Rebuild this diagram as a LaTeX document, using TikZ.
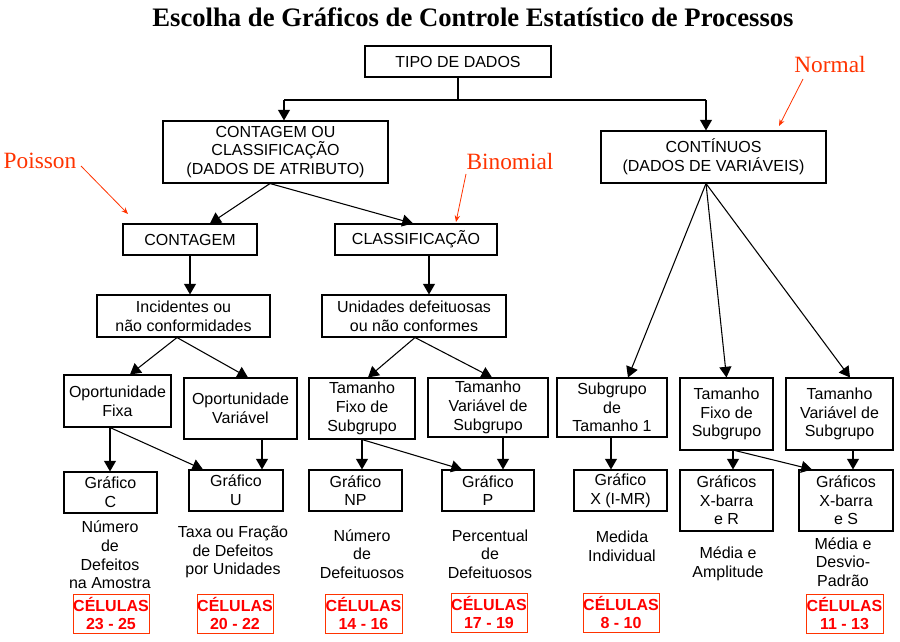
\documentclass[tikz,border=0pt]{standalone}
\usepackage{fontspec}
\setmainfont{Liberation Serif}
\newfontfamily\arialf{Liberation Sans}
\usetikzlibrary{arrows.meta,calc}
\definecolor{lblred}{RGB}{255,51,0}
\definecolor{celred}{RGB}{255,0,0}
\begin{document}
\begin{tikzpicture}[x=0.75pt,y=-0.75pt,
  rect/.style n args={4}{minimum width={(#3-#1)*0.75pt}, minimum height={(#4-#2)*0.75pt}, at={({(#1+#3)/2},{(#2+#4)/2})}},
  box/.style={draw,line width=0.8pt,inner sep=0pt,align=center,font=\arialf\fontsize{12}{14}\selectfont},
  arr/.style={line width=0.8pt,-{Triangle[width=9pt,length=8pt]}},
  ln/.style={line width=0.8pt},
  redarr/.style={draw=lblred,line width=0.6pt,-{Stealth[length=5pt,width=4pt]}},
  lbl/.style={text=lblred,font=\fontsize{17.5}{20}\selectfont,inner sep=0pt},
  desc/.style={align=center,inner sep=0pt,font=\arialf\fontsize{12}{14}\selectfont},
  cel/.style={draw=lblred,line width=0.6pt,inner sep=0pt,align=center,text=celred,font=\arialf\bfseries\fontsize{12}{13.7}\selectfont}]
\useasboundingbox (0,0) rectangle (900,642);

\node[font=\bfseries\fontsize{20}{24}\selectfont,inner sep=0pt] (title) at (473,17) {Escolha de Gráficos de Controle Estatístico de Processos};

% boxes
\node[box,rect={365}{46}{551}{77}] (tipo) {TIPO DE DADOS};
\node[box,rect={163}{121}{388}{183}] (cou) {CONTAGEM OU\\CLASSIFICAÇÃO\\(DADOS DE ATRIBUTO)};
\node[box,rect={601}{131}{826}{183}] (cont) {CONTÍNUOS\\(DADOS DE VARIÁVEIS)};
\node[box,rect={123}{224}{257}{255}] (ct) {CONTAGEM};
\node[box,rect={335}{224}{497}{255}] (cl) {CLASSIFICAÇÃO};
\node[box,rect={97}{295}{270}{337}] (inc) {Incidentes ou\\não conformidades};
\node[box,rect={322}{295}{506}{337}] (uni) {Unidades defeituosas\\ou não conformes};

\node[box,rect={64}{375}{171}{427}] (opf) {Oportunidade\\Fixa};
\node[box,rect={184}{378}{297}{439}] (opv) {Oportunidade\\Variável};
\node[box,rect={309}{378}{415}{439}] (tfa) {Tamanho\\Fixo de\\Subgrupo};
\node[box,rect={428}{378}{548}{437}] (tva) {Tamanho\\Variável de\\Subgrupo};
\node[box,rect={557}{378}{667}{437}] (st1) {Subgrupo\\de\\Tamanho 1};
\node[box,rect={680}{378}{773}{450}] (tfc) {Tamanho\\Fixo de\\Subgrupo};
\node[box,rect={786}{378}{893}{450}] (tvc) {Tamanho\\Variável de\\Subgrupo};

\node[box,rect={64}{472}{157}{513}] (gc) {Gráfico\\C};
\node[box,rect={189}{470}{283}{511}] (gu) {Gráfico\\U};
\node[box,rect={309}{470}{402}{511}] (gnp) {Gráfico\\NP};
\node[box,rect={442}{470}{534}{511}] (gp) {Gráfico\\P};
\node[box,rect={574}{470}{667}{511}] (gx) {Gráfico\\X (I-MR)};
\node[box,rect={680}{470}{773}{531}] (gr) {Gráficos\\X-barra\\e R};
\node[box,rect={799}{470}{893}{531}] (gs) {Gráficos\\X-barra\\e S};

% descriptions
\node[desc] (d1) at (110,555) {Número\\de\\Defeitos\\na Amostra};
\node[desc] (d2) at (233,552) {Taxa ou Fração\\de Defeitos\\por Unidades};
\node[desc] (d3) at (362,554) {Número\\de\\Defeituosos};
\node[desc] (d4) at (490,554) {Percentual\\de\\Defeituosos};
\node[desc] (d5) at (622,546) {Medida\\Individual};
\node[desc] (d6) at (728,564) {Média e\\Amplitude};
\node[desc] (d7) at (843,562) {Média e\\Desvio-\\Padrão};

% cells
\node[cel,rect={73}{594}{149}{633}] (c1) {CÉLULAS\\23 - 25};
\node[cel,rect={197}{594}{273}{633}] (c2) {CÉLULAS\\20 - 22};
\node[cel,rect={325}{594}{402}{633}] (c3) {CÉLULAS\\14 - 16};
\node[cel,rect={451}{593}{527}{632}] (c4) {CÉLULAS\\17 - 19};
\node[cel,rect={583}{593}{659}{632}] (c5) {CÉLULAS\\8 - 10};
\node[cel,rect={806}{594}{883}{633}] (c6) {CÉLULAS\\11 - 13};

% red labels
\node[lbl] (poisson) at (40,161) {Poisson};
\node[lbl] (binomial) at (510,162) {Binomial};
\node[lbl] (normal) at (830,65) {Normal};
\coordinate (pa) at (81,166); \coordinate (pb) at (128,214);
\coordinate (ba) at (466,174); \coordinate (bb) at (456,222);
\coordinate (na) at (803,79); \coordinate (nb) at (779,126);
\draw[redarr] (pa) -- (pb);
\draw[redarr] (ba) -- (bb);
\draw[redarr] (na) -- (nb);

% top connectors
\coordinate (jl) at (284,100);
\coordinate (jr) at (706,100);
\draw[ln] (tipo.south) -- (tipo.south |- jl);
\draw[ln] (jl) -- (jr);
\draw[arr] (jl) -- (jl |- cou.north);
\draw[arr] (jr) -- (jr |- cont.north);

\coordinate (couS) at ($(cou.south)+(-5.5,0)$);
\draw[arr] (couS) -- ($(ct.north)+(20,0)$);
\draw[arr] (couS) -- ($(cl.north)+(-3,0)$);
\draw[arr] (ct.south) -- (ct.south |- inc.north);
\coordinate (clS) at ($(cl.south)+(13,0)$);
\draw[arr] (clS) -- (clS |- uni.north);

\coordinate (incS) at ($(inc.south)+(-6.5,0)$);
\draw[arr] (incS) -- ($(opf.north)+(12.5,0)$);
\draw[arr] (incS) -- ($(opv.north)+(7.5,0)$);
\coordinate (uniS) at ($(uni.south)+(1,0)$);
\draw[arr] (uniS) -- ($(tfa.north)+(6,0)$);
\draw[arr] (uniS) -- ($(tva.north)+(4,0)$);
\coordinate (contS) at ($(cont.south)+(-7.5,0)$);
\draw[arr] (contS) -- ($(st1.north)+(16,0)$);
\draw[arr] (contS) -- ($(tfc.north)+(0,0)$);
\draw[arr] (contS) -- ($(tvc.north)+(10.5,0)$);

% bottom connectors
\coordinate (o1) at ($(opf.south)+(-7.5,0)$);
\draw[arr] (o1) -- (o1 |- gc.north);
\draw[arr] (o1) -- ($(gu.north)+(-33,0)$);
\coordinate (o2) at ($(opv.south)+(21.5,0)$);
\draw[arr] (o2) -- (o2 |- gu.north);
\coordinate (o3) at (tfa.south);
\draw[arr] (o3) -- (o3 |- gnp.north);
\draw[arr] (o3) -- ($(gp.north)+(-26,0)$);
\coordinate (o4) at ($(tva.south)+(15,0)$);
\draw[arr] (o4) -- (o4 |- gp.north);
\coordinate (o5) at ($(st1.south)+(-1,0)$);
\draw[arr] (o5) -- (o5 |- gx.north);
\coordinate (o6) at ($(tfc.south)+(6.5,0)$);
\draw[arr] (o6) -- (o6 |- gr.north);
\draw[arr] ($(tfc.south)+(8.5,0)$) -- ($(gs.north)+(-34,0)$);
\coordinate (o7) at ($(tvc.south)+(13.5,0)$);
\draw[arr] (o7) -- (o7 |- gs.north);
\end{tikzpicture}
\end{document}
